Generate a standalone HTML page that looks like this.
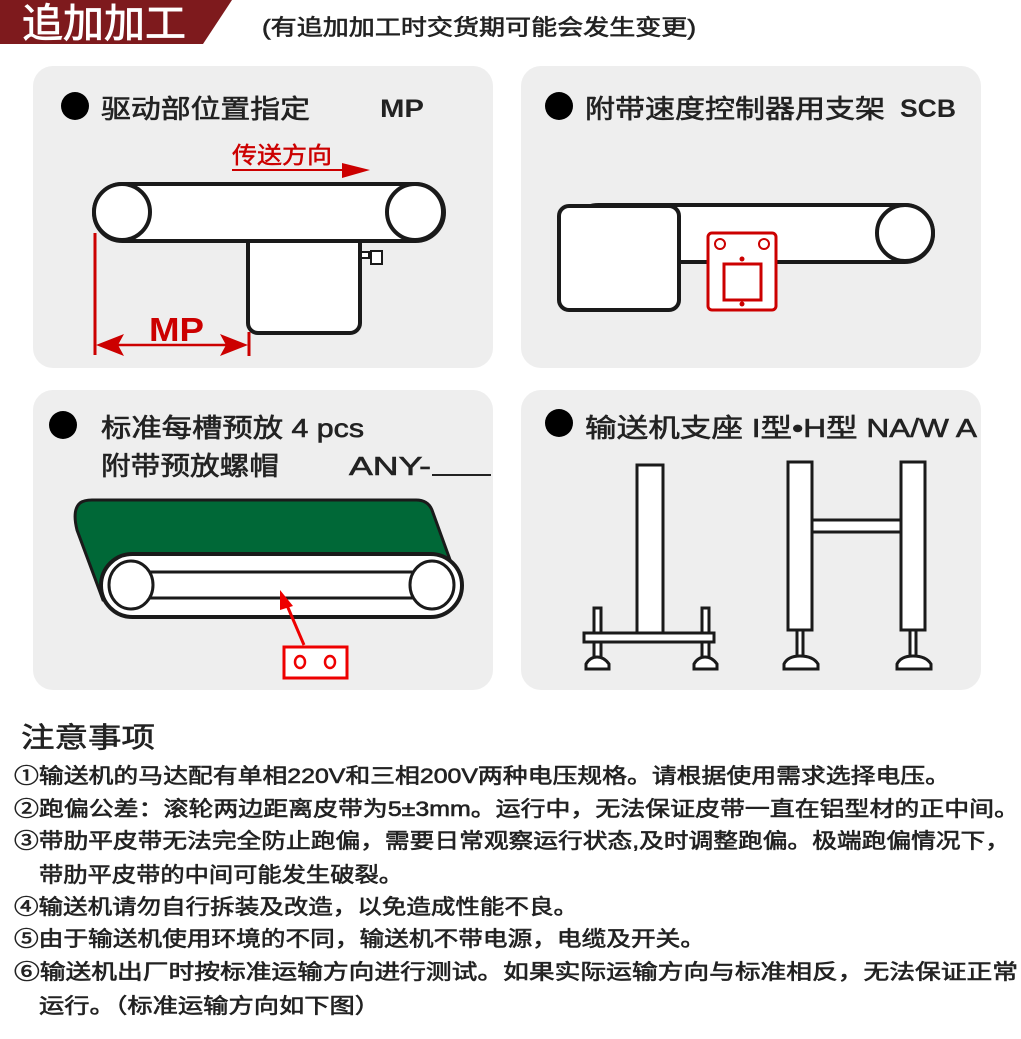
<!DOCTYPE html>
<html><head><meta charset="utf-8"><style>
html,body{margin:0;padding:0;background:#fff;}
svg{display:block;}
text{font-family:"Liberation Sans","Noto Sans CJK SC",sans-serif;}
.m{font-weight:normal;stroke:#222;stroke-width:0.6;}
</style></head><body>
<svg width="1021" height="1039" viewBox="0 0 1021 1039" xmlns="http://www.w3.org/2000/svg">
<!-- header -->
<polygon points="0,0 232,0 203,44 0,44" fill="#7e1a1d"/>
<text x="22" y="37" font-size="40" fill="#fff" stroke="#fff" stroke-width="0.8" textLength="164" lengthAdjust="spacingAndGlyphs">追加加工</text>
<text x="262" y="35" font-size="22" fill="#222" class="m" textLength="434" lengthAdjust="spacingAndGlyphs">(有追加加工时交货期可能会发生变更)</text>

<!-- panels -->
<rect x="33" y="66" width="460" height="302" rx="20" fill="#eeeeee"/>
<rect x="521" y="66" width="460" height="302" rx="20" fill="#eeeeee"/>
<rect x="33" y="390" width="460" height="300" rx="20" fill="#eeeeee"/>
<rect x="521" y="390" width="460" height="300" rx="20" fill="#eeeeee"/>

<!-- panel 1 -->
<circle cx="75" cy="106" r="14" fill="#000"/>
<text x="101" y="118" font-size="26" fill="#222" class="m" textLength="209" lengthAdjust="spacingAndGlyphs">驱动部位置指定</text>
<text x="380" y="117" font-size="25" fill="#222" font-weight="bold" textLength="44" lengthAdjust="spacingAndGlyphs">MP</text>
<text x="232" y="163" font-size="23" fill="#c00" stroke="#c00" stroke-width="0.5" textLength="100" lengthAdjust="spacingAndGlyphs">传送方向</text>
<line x1="232" y1="170" x2="352" y2="170" stroke="#c00" stroke-width="2"/>
<polygon points="342,163 370,170 342,178" fill="#c00"/>
<rect x="248" y="225" width="112" height="108" rx="10" fill="#fff" stroke="#1a1a1a" stroke-width="4"/>
<rect x="361" y="252" width="8" height="6" fill="#fff" stroke="#1a1a1a" stroke-width="2"/>
<rect x="371" y="251" width="11" height="13" fill="#fff" stroke="#1a1a1a" stroke-width="2"/>
<rect x="94" y="184" width="350" height="57" rx="28.5" fill="#fff" stroke="#1a1a1a" stroke-width="4"/>
<circle cx="122" cy="212" r="28" fill="#fff" stroke="#1a1a1a" stroke-width="4"/>
<circle cx="415" cy="212" r="28" fill="#fff" stroke="#1a1a1a" stroke-width="4"/>
<line x1="95" y1="233" x2="95" y2="355" stroke="#c00" stroke-width="3"/>
<line x1="249" y1="332" x2="249" y2="356" stroke="#c00" stroke-width="3"/>
<line x1="100" y1="345" x2="244" y2="345" stroke="#c00" stroke-width="2.5"/>
<polygon points="96,345 124,334 118,345 124,356" fill="#c00"/>
<polygon points="248,345 220,334 226,345 220,356" fill="#c00"/>
<text x="149" y="341" font-size="33" fill="#c00" font-weight="bold" textLength="55" lengthAdjust="spacingAndGlyphs">MP</text>

<!-- panel 2 -->
<circle cx="559" cy="106" r="14" fill="#000"/>
<text x="585" y="118" font-size="26" fill="#222" class="m" textLength="300" lengthAdjust="spacingAndGlyphs">附带速度控制器用支架</text>
<text x="900" y="117" font-size="25" fill="#222" font-weight="bold" textLength="56" lengthAdjust="spacingAndGlyphs">SCB</text>
<rect x="570" y="205" width="363" height="57" rx="28.5" fill="#fff" stroke="#1a1a1a" stroke-width="4"/>
<circle cx="905" cy="233" r="28" fill="#fff" stroke="#1a1a1a" stroke-width="4"/>
<rect x="559" y="206" width="120" height="104" rx="10" fill="#fff" stroke="#1a1a1a" stroke-width="4"/>
<rect x="708" y="233" width="68" height="77" rx="4" fill="#fff" stroke="#c00" stroke-width="3"/>
<circle cx="720" cy="244" r="5" fill="none" stroke="#c00" stroke-width="2"/>
<circle cx="764" cy="244" r="5" fill="none" stroke="#c00" stroke-width="2"/>
<circle cx="742" cy="259" r="2.5" fill="#c00"/>
<rect x="724" y="264" width="37" height="36" fill="#fff" stroke="#c00" stroke-width="3"/>
<circle cx="742" cy="304" r="2.5" fill="#c00"/>

<!-- panel 3 -->
<circle cx="63" cy="425" r="14" fill="#000"/>
<text x="101" y="437" font-size="26" fill="#222" class="m" textLength="263" lengthAdjust="spacingAndGlyphs">标准每槽预放 4 pcs</text>
<text x="101" y="475" font-size="26" fill="#222" class="m" textLength="178" lengthAdjust="spacingAndGlyphs">附带预放螺帽</text>
<text x="349" y="475" font-size="26" fill="#222" class="m" textLength="82" lengthAdjust="spacingAndGlyphs">ANY-</text>
<line x1="432" y1="475" x2="491" y2="475" stroke="#222" stroke-width="2"/>
<path d="M92,500 L416,500 Q428,500 432,510 L461,590 L103,600 L77,530 Q72,510 80,503 Q84,500 92,500 Z" fill="#006837" stroke="#1a1a1a" stroke-width="3"/>
<rect x="101" y="554" width="361" height="63" rx="31.5" fill="#fff" stroke="#1a1a1a" stroke-width="4"/>
<line x1="140" y1="572" x2="420" y2="572" stroke="#1a1a1a" stroke-width="3"/>
<line x1="140" y1="598" x2="420" y2="598" stroke="#1a1a1a" stroke-width="3"/>
<ellipse cx="131" cy="585" rx="22" ry="24" fill="#fff" stroke="#1a1a1a" stroke-width="3"/>
<ellipse cx="432" cy="585" rx="22" ry="24" fill="#fff" stroke="#1a1a1a" stroke-width="3"/>
<line x1="304" y1="645" x2="286" y2="603" stroke="#e00" stroke-width="3"/>
<polygon points="280,590 293,606 280,610" fill="#e00"/>
<rect x="284" y="647" width="63" height="31" fill="#fff" stroke="#e00" stroke-width="3"/>
<ellipse cx="300" cy="662" rx="5" ry="6" fill="none" stroke="#e00" stroke-width="2.5"/>
<ellipse cx="330" cy="662" rx="5" ry="6" fill="none" stroke="#e00" stroke-width="2.5"/>

<!-- panel 4 -->
<circle cx="559" cy="423" r="14" fill="#000"/>
<text x="585" y="437" font-size="26" fill="#222" class="m" textLength="392" lengthAdjust="spacingAndGlyphs">输送机支座 I型•H型  NA/W A</text>
<g fill="#fff" stroke="#1a1a1a" stroke-width="3">
<rect x="637" y="465" width="26" height="170"/>
<rect x="594" y="608" width="7" height="55"/>
<rect x="702" y="608" width="7" height="55"/>
<rect x="584" y="633" width="130" height="9"/>
<path d="M586,669 L586,664 Q590,657 597,657 Q604,657 609,664 L609,669 Z"/>
<path d="M694,669 L694,664 Q698,657 705,657 Q712,657 717,664 L717,669 Z"/>
<rect x="788" y="462" width="24" height="168"/>
<rect x="901" y="462" width="24" height="168"/>
<rect x="812" y="520" width="89" height="12"/>
<rect x="797" y="630" width="6" height="30"/>
<rect x="910" y="630" width="6" height="30"/>
<path d="M784,669 L784,664 Q788,656 800,656 Q813,656 818,664 L818,669 Z"/>
<path d="M897,669 L897,664 Q901,656 913,656 Q926,656 931,664 L931,669 Z"/>
</g>

<!-- notes -->
<g fill="#222" class="m">
<text x="21" y="747" font-size="28" class="m" textLength="134" lengthAdjust="spacingAndGlyphs">注意事项</text>
<text x="14" y="783" font-size="21" class="m" textLength="936" lengthAdjust="spacingAndGlyphs">①输送机的马达配有单相220V和三相200V两种电压规格。请根据使用需求选择电压。</text>
<text x="14" y="816" font-size="21" class="m" textLength="1005" lengthAdjust="spacingAndGlyphs">②跑偏公差：滚轮两边距离皮带为5±3mm。运行中，无法保证皮带一直在铝型材的正中间。</text>
<text x="14" y="848" font-size="21" class="m" textLength="996" lengthAdjust="spacingAndGlyphs">③带肋平皮带无法完全防止跑偏，需要日常观察运行状态,及时调整跑偏。极端跑偏情况下，</text>
<text x="39" y="882" font-size="21" class="m" textLength="364" lengthAdjust="spacingAndGlyphs">带肋平皮带的中间可能发生破裂。</text>
<text x="14" y="914" font-size="21" class="m" textLength="564" lengthAdjust="spacingAndGlyphs">④输送机请勿自行拆装及改造，以免造成性能不良。</text>
<text x="14" y="946" font-size="21" class="m" textLength="691" lengthAdjust="spacingAndGlyphs">⑤由于输送机使用环境的不同，输送机不带电源，电缆及开关。</text>
<text x="14" y="979" font-size="21" class="m" textLength="1004" lengthAdjust="spacingAndGlyphs">⑥输送机出厂时按标准运输方向进行测试。如果实际运输方向与标准相反，无法保证正常</text>
<text x="39" y="1013" font-size="21" class="m" textLength="341" lengthAdjust="spacingAndGlyphs">运行。（标准运输方向如下图）</text>
</g>
</svg>
</body></html>
